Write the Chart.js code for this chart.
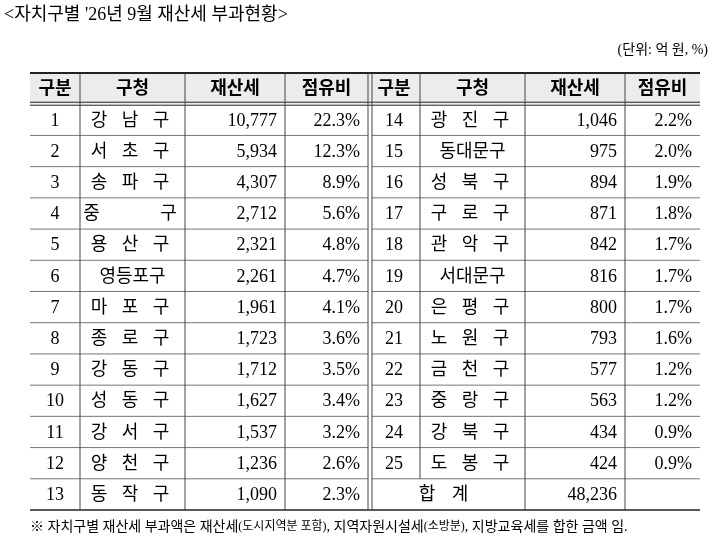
<!DOCTYPE html>
<html>
<head>
<meta charset="utf-8">
<script src="https://cdn.jsdelivr.net/npm/chart.js@4"></script>
<style>
  body { margin: 0; background: #fff; }
  #wrap { width: 720px; height: 545px; }
</style>
</head>
<body>
<div id="wrap"><canvas id="tbl"></canvas></div>
<script>
// table data
const headers = ["구분", "구청", "재산세", "점유비"];
const leftRanks = [1, 2, 3, 4, 5, 6, 7, 8, 9, 10, 11, 12, 13];
const leftNames = ["강 남 구", "서 초 구", "송 파 구", "중　　 구", "용 산 구", "영등포구", "마 포 구",
  "종 로 구", "강 동 구", "성 동 구", "강 서 구", "양 천 구", "동 작 구"];
const leftTax = [10777, 5934, 4307, 2712, 2321, 2261, 1961, 1723, 1712, 1627, 1537, 1236, 1090];
const leftShare = [22.3, 12.3, 8.9, 5.6, 4.8, 4.7, 4.1, 3.6, 3.5, 3.4, 3.2, 2.6, 2.3];
const rightRanks = [14, 15, 16, 17, 18, 19, 20, 21, 22, 23, 24, 25];
const rightNames = ["광 진 구", "동대문구", "성 북 구", "구 로 구", "관 악 구", "서대문구", "은 평 구",
  "노 원 구", "금 천 구", "중 랑 구", "강 북 구", "도 봉 구"];
const rightTax = [1046, 975, 894, 871, 842, 816, 800, 793, 577, 563, 434, 424];
const rightShare = [2.2, 2.0, 1.9, 1.8, 1.7, 1.7, 1.7, 1.6, 1.2, 1.2, 0.9, 0.9];
const totalLabel = "합 계";
const totalTax = 48236;

// column edges in table units (layout)
const colEdges = [0, 50, 155, 255, 338, 390, 495, 595, 670];
const nRows = leftRanks.length + 1;

const fmt = (v) => v.toLocaleString("en-US");
const FONT = '"Liberation Serif", "Noto Sans CJK KR", serif';

const tablePlugin = {
  id: "tablePlugin",
  afterDraw(chart) {
    const ctx = chart.ctx;
    const xs = chart.scales.x;
    const ys = chart.scales.y;
    const px = (v) => xs.getPixelForValue(v);
    const py = (v) => ys.getPixelForValue(v);
    const L = px(colEdges[0]), R = px(colEdges[8]);
    ctx.save();

    // title and unit
    ctx.fillStyle = "#000";
    ctx.textBaseline = "middle";
    ctx.font = "18px " + FONT;
    ctx.textAlign = "left";
    ctx.fillText("<자치구별 '26년 9월 재산세 부과현황>", 4, 15);
    ctx.font = "14px " + FONT;
    ctx.textAlign = "right";
    ctx.fillText("(단위: 억 원, %)", 708, 50);

    // header background
    ctx.fillStyle = "#ececec";
    ctx.fillRect(L, py(0), R - L, py(1) - py(0));

    // horizontal lines
    const hline = (y, x0, x1, w, c) => {
      ctx.strokeStyle = c; ctx.lineWidth = w;
      ctx.beginPath(); ctx.moveTo(x0, y); ctx.lineTo(x1, y); ctx.stroke();
    };
    hline(py(0), L, R, 2, "#222");
    hline(py(1) - 2, L, R, 1, "#222");
    hline(py(1) + 1, L, R, 1, "#222");
    for (let r = 2; r < nRows; r++) {
      hline(py(r), L, px(colEdges[4]), 1, "#777");
      hline(py(r), px(colEdges[4]) + 4, R, 1, "#777");
    }
    hline(py(nRows), L, R, 1.5, "#222");

    // vertical lines
    const vline = (x, y0, y1, w) => {
      ctx.strokeStyle = "#444"; ctx.lineWidth = w;
      ctx.beginPath(); ctx.moveTo(x, y0); ctx.lineTo(x, y1); ctx.stroke();
    };
    [1, 2, 3, 6, 7].forEach((i) => vline(px(colEdges[i]), py(0), py(nRows), 1));
    vline(px(colEdges[5]), py(0), py(nRows - 1), 1);
    vline(px(colEdges[4]), py(0), py(nRows), 1);
    vline(px(colEdges[4]) + 4, py(0), py(nRows), 1);

    // text helpers
    const cellText = (txt, c, r, align, bold, spacing) => {
      ctx.fillStyle = "#000";
      ctx.font = (bold ? "bold " : "") + "18px " + FONT;
      ctx.textAlign = align;
      ctx.letterSpacing = spacing || "0px";
      const y = (py(r) + py(r + 1)) / 2 + 1;
      let x;
      if (align === "center") x = (px(colEdges[c]) + px(colEdges[c + 1])) / 2;
      else x = px(colEdges[c + 1]) - 8;
      ctx.fillText(txt, x, y);
      ctx.letterSpacing = "0px";
    };
    const nameSpacing = (n) => (n.includes(" ") ? "5px" : "0px");
    headers.forEach((h, i) => { cellText(h, i, 0, "center", true); cellText(h, i + 4, 0, "center", true); });
    leftRanks.forEach((rk, i) => {
      cellText(String(rk), 0, i + 1, "center");
      cellText(leftNames[i], 1, i + 1, "center", false, nameSpacing(leftNames[i]));
      cellText(fmt(leftTax[i]), 2, i + 1, "right");
      cellText(leftShare[i].toFixed(1) + "%", 3, i + 1, "right");
    });
    rightRanks.forEach((rk, i) => {
      cellText(String(rk), 4, i + 1, "center");
      cellText(rightNames[i], 5, i + 1, "center", false, nameSpacing(rightNames[i]));
      cellText(fmt(rightTax[i]), 6, i + 1, "right");
      cellText(rightShare[i].toFixed(1) + "%", 7, i + 1, "right");
    });
    // total row spans 구분+구청
    ctx.textAlign = "center";
    ctx.font = "18px " + FONT;
    ctx.letterSpacing = "6px";
    ctx.fillText(totalLabel, (px(colEdges[4]) + px(colEdges[6])) / 2, (py(nRows - 1) + py(nRows)) / 2 + 1);
    ctx.letterSpacing = "0px";
    cellText(fmt(totalTax), 6, nRows - 1, "right");

    // footnote
    const parts = [
      ["※ 자치구별 재산세 부과액은 재산세", 14],
      ["(도시지역분 포함)", 12],
      [", 지역자원시설세", 14],
      ["(소방분)", 12],
      [", 지방교육세를 합한 금액 임.", 14]
    ];
    let fx = 30;
    ctx.textAlign = "left";
    parts.forEach(([t, s]) => {
      ctx.font = s + "px " + FONT;
      ctx.fillText(t, fx, 527);
      fx += ctx.measureText(t).width;
    });
    ctx.restore();
  }
};

new Chart(document.getElementById("tbl"), {
  type: "scatter",
  data: { datasets: [{ data: [], pointRadius: 0 }] },
  options: {
    responsive: true,
    maintainAspectRatio: false,
    animation: false,
    layout: { padding: { left: 30, right: 20, top: 73, bottom: 35 } },
    plugins: { legend: { display: false }, tooltip: { enabled: false } },
    scales: {
      x: { type: "linear", min: colEdges[0], max: colEdges[colEdges.length - 1], display: false },
      y: { type: "linear", min: 0, max: nRows, reverse: true, display: false }
    }
  },
  plugins: [tablePlugin]
});
</script>
</body>
</html>
